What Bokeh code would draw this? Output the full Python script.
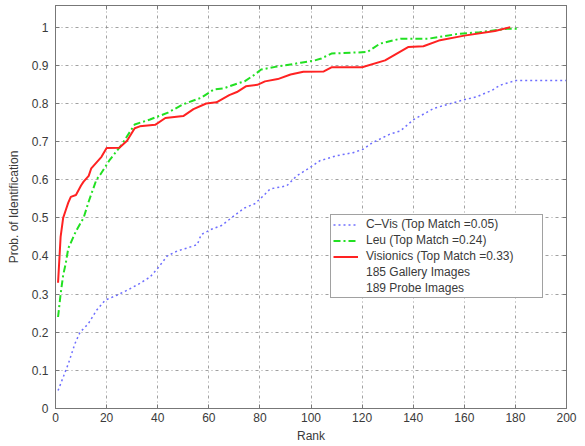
from bokeh.plotting import figure
from bokeh.models import (Range1d, FixedTicker, NumeralTickFormatter, LinearAxis,
                          Legend, LegendItem)
from bokeh.embed import file_html
from bokeh.resources import INLINE

# ---- data ----
cvis_rank = [1, 3, 5, 7.6, 9.6, 12.8, 16, 19.4, 24, 28, 33, 37, 40.4, 43.7, 47.6, 52, 55.5,
             57, 61, 65, 70, 74, 78, 81.4, 84, 90.5, 94.4, 99.6, 103.5, 110, 116.5, 120.4,
             124, 131, 135, 140, 148, 159.5, 165, 171, 174, 180, 200]
cvis_prob = [0.047, 0.082, 0.117, 0.17, 0.2, 0.222, 0.257, 0.284, 0.297, 0.31, 0.328, 0.345,
             0.371, 0.40, 0.413, 0.422, 0.43, 0.456, 0.47, 0.48, 0.506, 0.526, 0.537, 0.558,
             0.576, 0.584, 0.61, 0.632, 0.65, 0.663, 0.671, 0.68, 0.697, 0.72, 0.728, 0.757,
             0.787, 0.809, 0.818, 0.835, 0.848, 0.86, 0.86]

leu_rank = [1, 2, 3, 4, 5, 8, 11, 13, 16, 17.5, 21, 26, 31, 37, 44, 50, 57, 62, 66, 71, 74,
            78, 80.5, 86, 90, 96, 101, 104, 108, 122, 127, 135, 146, 158, 166, 177, 181]
leu_prob = [0.24, 0.30, 0.35, 0.38, 0.42, 0.465, 0.50, 0.543, 0.60, 0.613, 0.65, 0.693, 0.745,
            0.758, 0.776, 0.798, 0.815, 0.837, 0.84, 0.852, 0.858, 0.876, 0.889, 0.896, 0.90,
            0.907, 0.912, 0.918, 0.931, 0.935, 0.957, 0.97, 0.97, 0.983, 0.987, 0.996, 0.996]

vis_rank = [1, 2, 3, 4, 5, 6, 8, 10, 11, 13, 14, 16, 18, 20, 25, 28, 31, 33, 39, 43, 50, 54,
            59, 63, 68, 71, 74.5, 79, 82, 87, 92, 97, 105, 108, 120, 129, 138, 144, 150,
            160, 172, 178]
vis_prob = [0.33, 0.45, 0.50, 0.52, 0.54, 0.555, 0.56, 0.585, 0.595, 0.61, 0.63, 0.645, 0.66,
            0.683, 0.684, 0.702, 0.735, 0.74, 0.744, 0.762, 0.767, 0.785, 0.80, 0.803, 0.822,
            0.83, 0.845, 0.849, 0.858, 0.864, 0.876, 0.883, 0.884, 0.895, 0.895, 0.913, 0.948,
            0.95, 0.965, 0.978, 0.99, 1.0]

x_ticks = [0, 20, 40, 60, 80, 100, 120, 140, 160, 180, 200]
y_ticks = [0, 0.1, 0.2, 0.3, 0.4, 0.5, 0.6, 0.7, 0.8, 0.9, 1.0]

labels = ["C\u2013Vis (Top Match =0.05)", "Leu (Top Match =0.24)",
          "Visionics (Top Match =0.33)", "185 Gallery Images", "189 Probe Images"]

FONT = "Liberation Sans"
TXT = "#3a3a3a"
AX = "#777777"

p = figure(width=585, height=446, output_backend="svg", toolbar_location=None,
           x_range=Range1d(0, 200), y_range=Range1d(0, 1.057),
           min_border_left=55, min_border_right=19, min_border_top=5,
           min_border_bottom=38, background_fill_color="white",
           border_fill_color="white")

p.outline_line_color = AX
p.outline_line_width = 1

for ax, ticks in ((p.xaxis[0], x_ticks), (p.yaxis[0], y_ticks)):
    ax.ticker = FixedTicker(ticks=ticks)
    ax.major_tick_in = 4
    ax.major_tick_out = 0
    ax.minor_tick_line_color = None
    ax.axis_line_color = AX
    ax.major_tick_line_color = AX
    ax.major_label_text_font = FONT
    ax.major_label_text_font_size = "12px"
    ax.major_label_text_color = TXT
    ax.axis_label_text_font = FONT
    ax.axis_label_text_font_size = "12px"
    ax.axis_label_text_font_style = "normal"
    ax.axis_label_text_color = TXT

p.yaxis[0].formatter = NumeralTickFormatter(format="0.[0]")
p.xaxis[0].axis_label = "Rank"
p.yaxis[0].axis_label = "Prob. of Identification"
p.xaxis[0].major_label_standoff = 4
p.yaxis[0].major_label_standoff = 7
p.xaxis[0].axis_label_standoff = 4
p.yaxis[0].axis_label_standoff = 8

# mirrored ticks on top and right (box on), without labels
for loc, ticks in (("above", x_ticks), ("right", y_ticks)):
    a = LinearAxis(ticker=FixedTicker(ticks=ticks))
    a.major_tick_in = 4
    a.major_tick_out = 0
    a.minor_tick_line_color = None
    a.major_label_text_font_size = "1px"
    a.major_label_text_color = None
    a.major_label_standoff = 0
    a.axis_line_color = AX
    a.major_tick_line_color = AX
    p.add_layout(a, loc)

for g in (p.xgrid[0], p.ygrid[0]):
    g.grid_line_color = "#8a8a8a"
    g.grid_line_dash = "3 3 1 3"
    g.grid_line_width = 1
    g.grid_line_alpha = 0.8
p.xgrid[0].ticker = FixedTicker(ticks=x_ticks)
p.ygrid[0].ticker = FixedTicker(ticks=y_ticks)

r_cvis = p.line(cvis_rank, cvis_prob, line_color="#6f6fff", line_width=1.5, line_dash="2 3")
r_leu = p.line(leu_rank, leu_prob, line_color="#22e022", line_width=2, line_dash="7 3 2 3")
r_vis = p.line(vis_rank, vis_prob, line_color="#ff2222", line_width=2)
d1 = p.line(x=[], y=[], line_alpha=0)
d2 = p.line(x=[], y=[], line_alpha=0)

legend = Legend(items=[LegendItem(label=labels[0], renderers=[r_cvis]),
                       LegendItem(label=labels[1], renderers=[r_leu]),
                       LegendItem(label=labels[2], renderers=[r_vis]),
                       LegendItem(label=labels[3], renderers=[d1]),
                       LegendItem(label=labels[4], renderers=[d2])],
                location=(275, 110))
legend.label_text_font = FONT
legend.label_text_font_size = "12px"
legend.label_text_color = TXT
legend.label_height = 13
legend.glyph_height = 13
legend.glyph_width = 25
legend.label_standoff = 8
legend.spacing = 2
legend.padding = 2
legend.margin = 0
legend.label_width = 174
legend.border_line_color = "#444444"
legend.border_line_width = 1
legend.background_fill_color = "white"
legend.background_fill_alpha = 1
p.add_layout(legend, "center")

open("out.html", "w").write(file_html(p, INLINE))
